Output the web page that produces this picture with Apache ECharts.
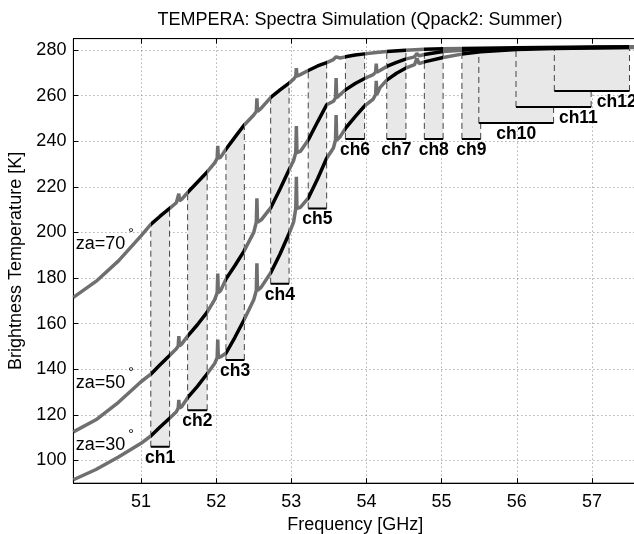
<!DOCTYPE html>
<html>
<head>
<meta charset="utf-8">
<script src="https://cdn.jsdelivr.net/npm/echarts@6/dist/echarts.min.js"></script>
<style>
  html, body { margin: 0; padding: 0; background: #fff; }
  #chart { width: 634px; height: 534px; }
</style>
</head>
<body>
<div id="chart"></div>
<script>
// brightness temperature spectra (GHz, K)
const freq30 = [50.10, 50.40, 50.70, 51.00, 51.13, 51.25, 51.38, 51.47, 51.495, 51.503, 51.511, 51.54, 51.62, 51.75, 51.88, 51.98, 52.013, 52.021, 52.029, 52.06, 52.13, 52.25, 52.37, 52.50, 52.534, 52.542, 52.550, 52.60, 52.73, 52.85, 52.97, 53.03, 53.059, 53.067, 53.075, 53.12, 53.225, 53.35, 53.47, 53.56, 53.588, 53.596, 53.604, 53.65, 53.72, 53.85, 53.975, 54.09, 54.122, 54.130, 54.138, 54.18, 54.27, 54.40, 54.52, 54.64, 54.671, 54.70, 54.77, 55.02, 55.27, 55.52, 56.00, 56.50, 57.00, 57.60];
const tb30 = [91.5, 96.0, 101.5, 107.5, 110.7, 114.5, 118.5, 121.3, 123.0, 126.5, 123.0, 123.5, 127.5, 132.5, 138.0, 142.5, 145.0, 153.0, 145.0, 145.5, 147.0, 154.0, 161.6, 170.5, 174.5, 186.4, 174.5, 176.0, 182.5, 190.5, 199.5, 204.5, 210.5, 224.4, 210.5, 211.0, 215.0, 223.5, 232.5, 237.0, 240.5, 251.5, 240.5, 242.0, 245.6, 250.8, 255.5, 258.5, 260.5, 266.5, 260.5, 263.5, 266.8, 269.8, 272.0, 273.6, 276.3, 274.0, 274.8, 276.7, 278.2, 279.2, 280.2, 280.7, 280.9, 281.1];

const freq50 = [50.10, 50.40, 50.70, 51.00, 51.13, 51.25, 51.38, 51.47, 51.495, 51.503, 51.511, 51.54, 51.62, 51.75, 51.88, 51.98, 52.013, 52.021, 52.029, 52.06, 52.13, 52.25, 52.37, 52.50, 52.534, 52.542, 52.550, 52.60, 52.73, 52.85, 52.97, 53.03, 53.059, 53.067, 53.075, 53.12, 53.225, 53.35, 53.47, 53.56, 53.588, 53.596, 53.604, 53.65, 53.72, 53.85, 53.975, 54.09, 54.122, 54.130, 54.138, 54.18, 54.27, 54.40, 54.52, 54.64, 54.671, 54.70, 54.77, 55.02, 55.27, 55.52, 56.00, 56.50, 57.00, 57.60];
const tb50 = [112.5, 117.8, 125.5, 134.5, 137.8, 141.8, 146.0, 149.0, 150.2, 154.5, 150.2, 151.0, 154.5, 159.5, 165.0, 170.5, 173.5, 182.0, 173.5, 174.5, 179.5, 185.5, 191.8, 200.0, 204.5, 215.0, 204.5, 205.5, 211.0, 219.0, 227.5, 231.5, 235.0, 246.7, 235.0, 235.5, 240.5, 248.5, 256.0, 257.5, 259.0, 267.7, 259.0, 260.5, 262.5, 265.3, 267.5, 269.2, 270.3, 274.0, 270.3, 271.0, 272.8, 274.6, 276.0, 277.0, 278.5, 277.4, 278.0, 279.3, 279.9, 280.3, 280.7, 280.9, 281.1, 281.2];

const freq70 = [50.10, 50.40, 50.70, 51.00, 51.13, 51.25, 51.38, 51.47, 51.495, 51.503, 51.511, 51.54, 51.62, 51.75, 51.88, 51.98, 52.013, 52.021, 52.029, 52.06, 52.13, 52.25, 52.37, 52.50, 52.534, 52.542, 52.550, 52.60, 52.73, 52.85, 52.97, 53.03, 53.059, 53.067, 53.075, 53.12, 53.225, 53.35, 53.47, 53.56, 53.596, 53.65, 53.72, 53.85, 53.975, 54.13, 54.27, 54.52, 54.77, 55.02, 55.52, 56.00, 57.00, 57.60];
const tb70 = [171.5, 178.5, 187.5, 198.5, 203.5, 207.0, 210.5, 213.0, 213.8, 217.0, 213.8, 214.5, 217.5, 222.0, 226.5, 230.5, 232.5, 238.0, 232.5, 233.0, 236.5, 241.8, 247.0, 251.5, 253.0, 258.8, 253.0, 254.5, 259.3, 262.5, 265.5, 267.2, 268.5, 272.0, 268.5, 269.2, 271.0, 273.0, 274.5, 275.8, 277.0, 276.5, 277.0, 277.8, 278.3, 278.9, 279.3, 279.9, 280.3, 280.5, 280.8, 281.0, 281.3, 281.4];

// TEMPERA channels
const chNames = ['ch1', 'ch2', 'ch3', 'ch4', 'ch5', 'ch6', 'ch7', 'ch8', 'ch9', 'ch10', 'ch11', 'ch12'];
const chLo = [51.13, 51.62, 52.13, 52.725, 53.225, 53.72, 54.27, 54.77, 55.27, 55.495, 55.99, 56.50];
const chHi = [51.38, 51.88, 52.375, 52.97, 53.47, 53.975, 54.525, 55.02, 55.52, 56.49, 56.99, 57.50];
const chBottom = [106, 122, 144, 177.5, 210.5, 241, 241, 241, 241, 248, 255, 262];

const xTicks = [51, 52, 53, 54, 55, 56, 57];
const yTicks = [100, 120, 140, 160, 180, 200, 220, 240, 260, 280];

const FONT = '"Liberation Sans", Arial, Helvetica, sans-serif';
const GRAY = '#6f6f6f';

const chart = echarts.init(document.getElementById('chart'));

function pairs(xs, ys) {
    return xs.map((x, i) => [x, ys[i]]);
}

// top of the shading follows the za=70 curve
function tb70At(f) {
    for (let i = 1; i < freq70.length; i++) {
        if (f <= freq70[i]) {
            const t = (f - freq70[i - 1]) / (freq70[i] - freq70[i - 1]);
            return tb70[i - 1] + t * (tb70[i] - tb70[i - 1]);
        }
    }
    return tb70[tb70.length - 1];
}

function renderChannel(params, api) {
    const idx = api.value(3);
    const lo = api.value(0), hi = api.value(1), bot = api.value(2);
    const pts = [api.coord([lo, bot]), api.coord([lo, tb70At(lo)])];
    freq70.forEach((f, i) => {
        if (f > lo && f < hi) pts.push(api.coord([f, tb70[i]]));
    });
    pts.push(api.coord([hi, tb70At(hi)]));
    pts.push(api.coord([hi, bot]));

    const pLoB = api.coord([lo, bot]), pLoT = api.coord([lo, tb70At(lo)]);
    const pHiB = api.coord([hi, bot]), pHiT = api.coord([hi, tb70At(hi)]);
    // the last two labels sit to the right of their bar centre
    const shift = idx >= 10 ? 0.33 : 0;
    const pLab = api.coord([(lo + hi) / 2 + shift, bot]);
    const dash = {stroke: '#444', lineWidth: 1, lineDash: [6, 4]};
    return {
        type: 'group',
        children: [
            {type: 'polygon', shape: {points: pts}, style: {fill: '#e8e8e8'}},
            {type: 'line', shape: {x1: pLoB[0], y1: pLoB[1], x2: pLoT[0], y2: pLoT[1]}, style: dash},
            {type: 'line', shape: {x1: pHiB[0], y1: pHiB[1], x2: pHiT[0], y2: pHiT[1]}, style: dash},
            {type: 'line', shape: {x1: pLoB[0], y1: pLoB[1], x2: pHiB[0], y2: pHiB[1]}, style: {stroke: '#000', lineWidth: 2}},
            {
                type: 'text', z2: 10,
                style: {
                    text: chNames[idx], x: pLab[0], y: pLab[1] + 2,
                    align: 'center', verticalAlign: 'top',
                    font: 'bold 17.5px ' + FONT, fill: '#000'
                }
            }
        ]
    };
}

function zaLine(name, xs, ys, labelAt) {
    return {
        name: name,
        type: 'line',
        data: pairs(xs, ys),
        showSymbol: false,
        z: 3,
        lineStyle: {width: 3.5},
        markPoint: {
            symbolSize: 0,
            silent: true,
            data: [{coord: labelAt, value: name}],
            label: {
                show: true,
                position: 'right',
                distance: 0,
                formatter: '{a|' + name + '}{s|°}',
                rich: {
                    a: {fontFamily: FONT, fontSize: 18, color: '#000', lineHeight: 26, verticalAlign: 'bottom'},
                    s: {fontFamily: FONT, fontSize: 14, color: '#000', lineHeight: 26, verticalAlign: 'top', padding: [0, 0, 0, 3]}
                }
            }
        }
    };
}

const splitStyle = {show: true, lineStyle: {color: '#8a8a8a', width: 1, type: [1, 3]}};

chart.setOption({
    animation: false,
    backgroundColor: '#fff',
    title: {
        text: 'TEMPERA: Spectra Simulation (Qpack2: Summer)',
        left: 355, top: 6, textAlign: 'center',
        textStyle: {fontFamily: FONT, fontSize: 18, fontWeight: 'normal', color: '#000'}
    },
    grid: {
        left: 73.4, right: -3, top: 38.6, bottom: 50.8,
        containLabel: false, outerBoundsMode: 'none',
        show: true, borderColor: '#000', borderWidth: 1, backgroundColor: 'transparent'
    },
    xAxis: [{
        type: 'value', min: 50.1, max: 57.6,
        name: 'Frequency [GHz]', nameLocation: 'middle', nameGap: 32,
        nameTextStyle: {fontFamily: FONT, fontSize: 18, color: '#000'},
        axisLine: {show: true, lineStyle: {color: '#000', width: 1}},
        axisTick: {show: true, inside: true, length: 5, customValues: xTicks, lineStyle: {color: '#000'}},
        axisLabel: {customValues: xTicks, fontFamily: FONT, fontSize: 18, color: '#000', margin: 10},
        splitLine: splitStyle
    }, {
        type: 'value', min: 50.1, max: 57.6, position: 'top',
        axisLine: {show: true, lineStyle: {color: '#000', width: 1}},
        axisTick: {show: true, inside: true, length: 5, customValues: xTicks, lineStyle: {color: '#000'}},
        axisLabel: {show: false},
        splitLine: {show: false}
    }],
    yAxis: {
        type: 'value', min: 90, max: 285,
        name: 'Brightness Temperature [K]', nameLocation: 'middle', nameGap: 45, nameRotate: 90,
        nameTextStyle: {fontFamily: FONT, fontSize: 18, color: '#000'},
        axisLine: {show: true, lineStyle: {color: '#000', width: 1}},
        axisTick: {show: true, inside: true, length: 5, customValues: yTicks, lineStyle: {color: '#000'}},
        axisLabel: {customValues: yTicks, fontFamily: FONT, fontSize: 18, color: '#000', margin: 7},
        splitLine: splitStyle
    },
    visualMap: {
        type: 'piecewise', show: false, dimension: 0, seriesIndex: [1, 2, 3],
        pieces: chLo.map((lo, i) => ({gte: lo, lte: chHi[i], color: '#000'})),
        outOfRange: {color: GRAY}
    },
    series: [
        {
            type: 'custom',
            z: 1,
            renderItem: renderChannel,
            encode: {x: [0, 1], y: 2},
            data: chLo.map((lo, i) => [lo, chHi[i], chBottom[i], i]),
            clip: true
        },
        zaLine('za=30', freq30, tb30, [50.13, 108.5]),
        zaLine('za=50', freq50, tb50, [50.13, 135.5]),
        zaLine('za=70', freq70, tb70, [50.13, 196.5])
    ]
});
</script>
</body>
</html>
